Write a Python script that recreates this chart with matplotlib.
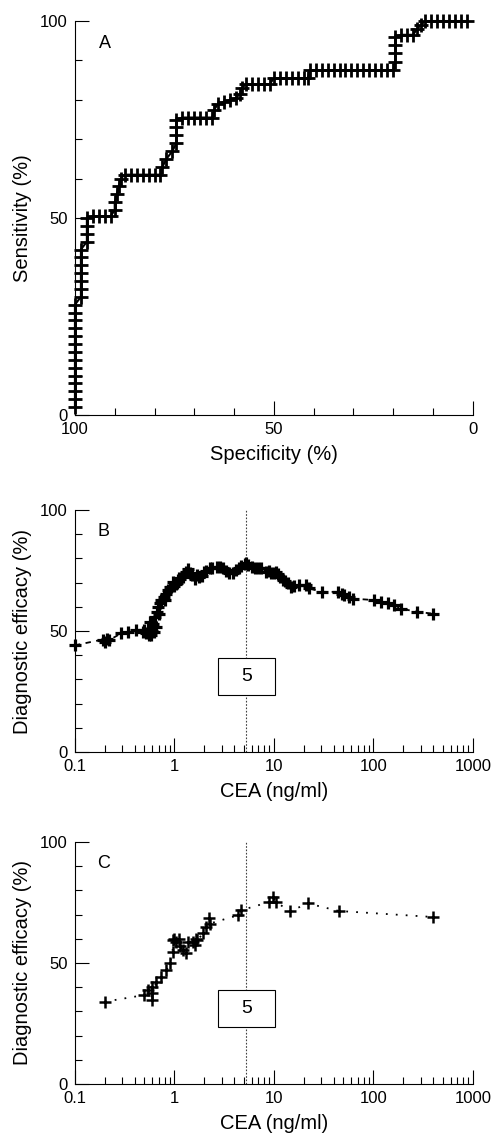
import matplotlib
matplotlib.use("Agg")
import matplotlib.pyplot as plt
from matplotlib.patches import Rectangle
from matplotlib.ticker import FixedLocator, LogLocator, NullFormatter

plt.rcParams['font.family'] = ['Liberation Sans', 'DejaVu Sans']

# panel A: ROC curve
spec_a = [100, 100, 100, 100, 100, 100, 100, 100, 100, 100, 100, 100, 100, 100,
          98.5, 98.5, 98.5, 98.5, 98.5, 98.5, 98.5,
          97, 97, 97, 97,
          95.5, 94, 92.5, 91,
          90, 90, 89.5, 89, 88.5,
          87.5, 86, 84.5, 83, 81.5, 80, 78.5,
          78, 77, 75.5, 74.5, 74.5, 74.5, 74.5,
          73, 71.5, 70, 68.5, 67, 65.5,
          65, 64, 62.5, 61, 59.5, 58.5, 58,
          57, 55.5, 54, 52.5, 51,
          50, 48.5, 47, 45.5, 44, 42.5, 41.5,
          41, 39.5, 38, 36.5, 35, 33.5, 32, 30.5, 29, 27.5, 26, 24.5, 23, 21.5, 20,
          19.5, 19.5, 19.5, 19.5,
          18, 16.5, 15,
          14, 13, 12,
          10.5, 9, 7.5, 6, 4.5, 3, 1.5]
sens_a = [2, 4, 6, 8, 10, 12, 14, 16, 18, 20, 22, 24, 26, 28,
          30, 32, 34, 36, 38, 40, 42,
          44, 46, 48, 50,
          50.5, 50.5, 50.5, 50.5,
          52, 54, 56, 58, 60,
          61, 61, 61, 61, 61, 61, 61,
          63, 65, 67, 69, 71, 73, 75,
          75.5, 75.5, 75.5, 75.5, 75.5, 75.5,
          77.5, 79, 79.5, 80, 80.5, 81.5, 83,
          84, 84, 84, 84, 84,
          85.5, 85.5, 85.5, 85.5, 85.5, 85.5, 85.5,
          87.5, 87.5, 87.5, 87.5, 87.5, 87.5, 87.5, 87.5, 87.5, 87.5, 87.5, 87.5, 87.5, 87.5, 87.5,
          89.5, 92, 94, 96,
          96.5, 96.5, 96.5,
          98, 99, 100,
          100, 100, 100, 100, 100, 100, 100]

# panel B: diagnostic efficacy, all cut-offs
cea_b = [0.1, 0.19, 0.2, 0.21, 0.22, 0.29, 0.34, 0.41, 0.48, 0.5, 0.52, 0.54, 0.55, 0.57,
         0.58, 0.6, 0.61, 0.63, 0.64, 0.66, 0.67, 0.69, 0.7, 0.72, 0.74, 0.78, 0.8, 0.83,
         0.87, 0.9, 0.93, 0.97, 1.0, 1.03, 1.05, 1.08, 1.12, 1.15, 1.22, 1.25, 1.32, 1.38,
         1.43, 1.5, 1.6, 1.7, 1.78, 1.9, 2.0, 2.1, 2.27, 2.4, 2.66, 2.9, 3.08, 3.3, 3.57,
         3.9, 4.2, 4.5, 4.7, 5.1, 5.3, 5.5, 6.0, 6.4, 7.0, 7.5, 8.4, 9.0, 9.4, 10.0, 10.6,
         11.0, 11.4, 12.3, 12.8, 13.8, 14.9, 16, 18, 21, 22.6, 30.3, 43.7, 48, 51, 57, 62,
         102, 119, 139, 162, 189, 277, 395]
eff_b = [44.1, 46.5, 45.5, 46.9, 46.2, 49, 49.7, 50.3, 49.7, 50.3, 49, 51, 48.5, 53.8,
         48.5, 50, 53, 49.5, 55.9, 51.7, 58, 60, 57, 61.5, 62.8, 64, 63, 65.5,
         67, 68.3, 68, 70.3, 68.8, 69.5, 70, 71, 72, 71.5, 72.4, 73.5, 74.5, 75.5,
         73.8, 73, 71.7, 73, 72.4, 72.8, 74.5, 75, 75.9, 76, 76.6, 76.3, 75.9, 75, 73.8,
         73.8, 75.2, 75.9, 76.8, 77.9, 78.3, 77.2, 76.5, 75.9, 76, 75.9, 74.5, 74.8, 73.8, 74, 74.5,
         73.5, 72.4, 71, 70.5, 69.7, 68.3, 68.5, 69, 69, 67.6, 66.2, 66.2, 65.4, 64.8, 64.2, 63.4,
         62.8, 62, 61.4, 60.7, 59.3, 57.9, 57.2]

# panel C
cea_c = [0.2, 0.49, 0.54, 0.59, 0.59, 0.6, 0.66, 0.74, 0.83, 0.9, 0.96, 0.96, 1.0, 1.03,
         1.1, 1.15, 1.21, 1.3, 1.36, 1.53, 1.6, 1.65, 1.7, 1.94, 2.1, 2.25, 2.27, 4.35,
         4.7, 9.0, 9.7, 10.5, 14.5, 22, 45, 400]
eff_c = [34, 36.7, 38.8, 40.2, 34.7, 37.4, 42.2, 44.3, 47, 49.8, 54.6, 59.4, 60, 58.7,
         60, 57, 55.3, 54, 58.7, 58.7, 57.4, 60, 59.4, 62.2, 64.9, 68.4, 66.3, 69.7,
         71.8, 75.2, 77.3, 75.2, 71.4, 74.6, 71.5, 69]

cutoff = 5.25
cutoff_label = "5"

fig = plt.figure(figsize=(4.93, 11.36), dpi=100)
ax_a = fig.add_axes([0.152, 0.6347, 0.807, 0.3468])
ax_b = fig.add_axes([0.152, 0.338, 0.807, 0.213])
ax_c = fig.add_axes([0.152, 0.0458, 0.807, 0.213])


def style_axes(ax):
    for s in ('top', 'right'):
        ax.spines[s].set_visible(False)
    for s in ('left', 'bottom'):
        ax.spines[s].set_linewidth(0.8)
    ax.tick_params(which='both', direction='in', width=0.8, labelsize=12)
    ax.tick_params(which='major', length=10, pad=5)
    ax.tick_params(which='minor', length=5)
    ax.set_ylim(0, 100)
    ax.yaxis.set_major_locator(FixedLocator([0, 50, 100]))
    ax.yaxis.set_minor_locator(FixedLocator(range(0, 101, 10)))


# A
style_axes(ax_a)
ax_a.plot(spec_a, sens_a, color='black', lw=1.5, marker='+', ms=10, mew=2, clip_on=False)
ax_a.set_xlim(100, 0)
ax_a.xaxis.set_major_locator(FixedLocator([100, 50, 0]))
ax_a.xaxis.set_minor_locator(FixedLocator(range(0, 101, 10)))
ax_a.set_xlabel("Specificity (%)", fontsize=14.5, labelpad=6)
ax_a.set_ylabel("Sensitivity (%)", fontsize=14.5, labelpad=6)
ax_a.text(0.075, 0.944, "A", transform=ax_a.transAxes, fontsize=13, ha='center', va='center')


def efficacy_panel(ax, x, y, letter, ls, ms, mew):
    style_axes(ax)
    ax.set_xscale('log')
    ax.set_xlim(0.1, 1000)
    ax.xaxis.set_major_locator(FixedLocator([0.1, 1, 10, 100, 1000]))
    ax.xaxis.set_minor_locator(LogLocator(base=10, subs=range(2, 10)))
    ax.xaxis.set_minor_formatter(NullFormatter())
    ax.set_xticklabels(["0.1", "1", "10", "100", "1000"])
    ax.axvline(cutoff, ymin=0, ymax=1, color='0.25', lw=0.8, ls=(0, (1.5, 1.5)))
    ax.plot(x, y, color='black', lw=1.3, ls=ls, marker='+', ms=ms, mew=mew, clip_on=False)
    ax.add_patch(Rectangle((0.359, 0.237), 0.1435, 0.152, transform=ax.transAxes,
                           facecolor='white', edgecolor='black', lw=0.8, zorder=3))
    ax.text(0.4307, 0.313, cutoff_label, transform=ax.transAxes, fontsize=14,
            ha='center', va='center', zorder=4)
    ax.set_xlabel("CEA (ng/ml)", fontsize=14.5, labelpad=6)
    ax.set_ylabel("Diagnostic efficacy (%)", fontsize=14.5, labelpad=6)
    ax.text(0.073, 0.91, letter, transform=ax.transAxes, fontsize=13, ha='center', va='center')


efficacy_panel(ax_b, cea_b, eff_b, "B", (0, (3, 3)), 9, 2.3)
efficacy_panel(ax_c, cea_c, eff_c, "C", (0, (1, 4.5)), 8, 1.8)

fig.savefig("out.png", dpi=100, facecolor='white')
